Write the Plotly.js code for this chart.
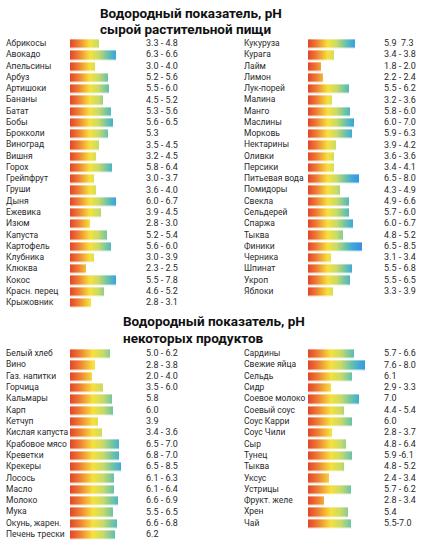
<!DOCTYPE html>
<html>
<head>
<meta charset="utf-8">
<script src="https://cdn.plot.ly/plotly-3.0.1.min.js"></script>
<style>html,body{margin:0;padding:0;background:#fff;}#chart{width:424px;height:549px;}</style>
</head>
<body>
<div id="chart"></div>
<script>
// ---- Data ----
const titleTop = ['Водородный показатель, pH', 'сырой растительной пищи'];
const titleBottom = ['Водородный показатель, pH', 'некоторых продуктов'];

const plantsA = ['Абрикосы','Авокадо','Апельсины','Арбуз','Артишоки','Бананы','Батат','Бобы','Брокколи','Виноград','Вишня','Горох','Грейпфрут','Груши','Дыня','Ежевика','Изюм','Капуста','Картофель','Клубника','Клюква','Кокос','Красн. перец','Крыжовник'];
const plantsAPh = ['3.3 - 4.8','6.3 - 6.6','3.0 - 4.0','5.2 - 5.6','5.5 - 6.0','4.5 - 5.2','5.3 - 5.6','5.6 - 6.5','5.3','3.5 - 4.5','3.2 - 4.5','5.8 - 6.4','3.0 - 3.7','3.6 - 4.0','6.0 - 6.7','3.9 - 4.5','2.8 - 3.0','5.2 - 5.4','5.6 - 6.0','3.0 - 3.9','2.3 - 2.5','5.5 - 7.8','4.6 - 5.2','2.8 - 3.1'];
const plantsABar = [29,46,25,38,39,33,41,43,38,29,26,42,24,26,46,31,20,37,41,24,16,46,34,21];

const plantsB = ['Кукуруза','Курага','Лайм','Лимон','Лук-порей','Малина','Манго','Маслины','Морковь','Нектарины','Оливки','Персики','Питьевая вода','Помидоры','Свекла','Сельдерей','Спаржа','Тыква','Финики','Черника','Шпинат','Укроп','Яблоки'];
const plantsBPh = ['5.9  7.3','3.4 - 3.8','1.8 - 2.0','2.2 - 2.4','5.5 - 6.2','3.2 - 3.6','5.8 - 6.0','6.0 - 7.0','5.9 - 6.3','3.9 - 4.2','3.6 - 3.6','3.4 - 4.1','6.5 - 8.0','4.3 - 4.9','4.9 - 6.6','5.7 - 6.0','6.0 - 6.7','4.8 - 5.2','6.5 - 8.5','3.1 - 3.4','5.5 - 6.8','5.5 - 6.5','3.3 - 3.9'];
const plantsBBar = [47,26,13,15,41,24,42,46,44,28,26,26.5,51.5,32.5,41,41,45,35,54,23,44,42,25];

const foodsA = ['Белый хлеб','Вино','Газ. напитки','Горчица','Кальмары','Карп','Кетчуп','Кислая капуста','Крабовое мясо','Креветки','Крекеры','Лосось','Масло','Молоко','Мука','Окунь, жарен.','Печень трески'];
const foodsAPh = ['5.0 - 6.2','2.8 - 3.8','2.0 - 4.0','3.5 - 6.0','5.8','6.0','3.9','3.4 - 3.6','6.5 - 7.0','6.8 - 7.0','6.5 - 8.5','6.1 - 6.3','6.1 - 6.4','6.6 - 6.9','5.5 - 6.5','6.6 - 6.8','6.2'];
const foodsABar = [40,25,22,33,42,43,28,32,49,49,51,44,44,48,43,47,45];

const foodsB = ['Сардины','Свежие яйца','Сельдь','Сидр','Соевое молоко','Соевый соус','Соус Карри','Соус Чили','Сыр','Тунец','Тыква','Уксус','Устрицы','Фрукт. желе','Хрен','Чай'];
const foodsBPh = ['5.7 - 6.6','7.6 - 8.0','6.1','2.9 - 3.3','7.0','4.4 - 5.4','6.0','2.8 - 3.7','4.8 - 6.4','5.9 -6.1','4.8 - 5.2','2.4 - 3.4','5.7 - 6.2','2.8 - 3.4','5.4','5.5-7.0'];
const foodsBBar = [46,57,44,23,51,36,44,24,38,44,36,21,43,16,40,43];

// ---- Styles ----
const scale = [[0,'#e2452b'],[0.15,'#ee7832'],[0.38,'#f6e13b'],[0.55,'#c8da68'],[0.72,'#6cc3a8'],[0.87,'#3ca5dd'],[1,'#3a90de']];
const labelFont = {family:'Roboto, sans-serif', size:8.5, color:'#2a2a2a'};
const valueFont = {family:'Roboto, sans-serif', size:9, color:'#2a2a2a'};
const LABEL_X = -64, VALUE_X = 76;

function barsHeatmap(bars, xa, ya, zmax) {
  const cols = [];
  for (let c = 0; c < 60; c++) cols.push(c + 0.5);
  const rows = bars.map((_, i) => i);
  const z = bars.map(b => cols.map(c => (c < b ? c : null)));
  return {type:'heatmap', x:cols, y:rows, z:z, xaxis:xa, yaxis:ya,
    colorscale:scale, zmin:0, zmax:zmax, showscale:false, ygap:2.6, xgap:0,
    hoverinfo:'skip', zsmooth:false};
}
function textTrace(xv, labels, xa, ya, font) {
  return {type:'scatter', mode:'text', x:labels.map(() => xv), y:labels.map((_, i) => i),
    text:labels, textposition:'middle right', textfont:font, xaxis:xa, yaxis:ya,
    hoverinfo:'skip', showlegend:false, cliponaxis:false};
}

const data = [
  barsHeatmap(plantsABar, 'x', 'y', 52),
  textTrace(LABEL_X, plantsA, 'x', 'y', labelFont),
  textTrace(VALUE_X, plantsAPh, 'x', 'y', valueFont),
  barsHeatmap(plantsBBar, 'x2', 'y', 52),
  textTrace(LABEL_X, plantsB, 'x2', 'y', labelFont),
  textTrace(VALUE_X, plantsBPh, 'x2', 'y', valueFont),
  barsHeatmap(foodsABar, 'x3', 'y2', 60),
  textTrace(LABEL_X, foodsA, 'x3', 'y2', labelFont),
  textTrace(VALUE_X, foodsAPh, 'x3', 'y2', valueFont),
  barsHeatmap(foodsBBar, 'x4', 'y2', 60),
  textTrace(LABEL_X, foodsB, 'x4', 'y2', labelFont),
  textTrace(VALUE_X, foodsBPh, 'x4', 'y2', valueFont)
];

const H = 549, W = 424;
const hidden = {showgrid:false, zeroline:false, showticklabels:false, ticks:'', showline:false, fixedrange:true};
const topRows = plantsA.length, botRows = foodsA.length;
const topFirst = 44, topStep = 11.26, botFirst = 354, botStep = 11.31;
function ydom(first, step, n) {
  const top = first - step/2, bot = top + n*step;
  return [1 - bot/H, 1 - top/H];
}
const titleFont = {family:'Roboto, sans-serif', size:13.5, color:'#111', weight:700};
function ann(x, y, text) {
  return {xref:'paper', yref:'paper', x:x/W, y:1 - y/H, xanchor:'left', yanchor:'middle',
    text:text, showarrow:false, font:titleFont, align:'left', borderpad:0};
}

const layout = {
  width:W, height:H, margin:{l:0,r:0,t:0,b:0},
  paper_bgcolor:'#fff', plot_bgcolor:'rgba(0,0,0,0)', showlegend:false,
  xaxis: Object.assign({domain:[0,0.5], range:[-70,142], anchor:'y'}, hidden),
  xaxis2: Object.assign({domain:[0.5,1], range:[-96,116], anchor:'y'}, hidden),
  xaxis3: Object.assign({domain:[0,0.5], range:[-70,142], anchor:'y2'}, hidden),
  xaxis4: Object.assign({domain:[0.5,1], range:[-96,116], anchor:'y2'}, hidden),
  yaxis: Object.assign({domain:ydom(topFirst, topStep, topRows), range:[topRows-0.5,-0.5], anchor:'x'}, hidden),
  yaxis2: Object.assign({domain:ydom(botFirst, botStep, botRows), range:[botRows-0.5,-0.5], anchor:'x3'}, hidden),
  annotations:[
    ann(99, 13, titleTop[0]), ann(99, 29.5, titleTop[1]),
    ann(122, 321, titleBottom[0]), ann(122, 337.5, titleBottom[1])
  ]
};

Plotly.newPlot('chart', data, layout, {displayModeBar:false, staticPlot:true});
</script>
</body>
</html>
